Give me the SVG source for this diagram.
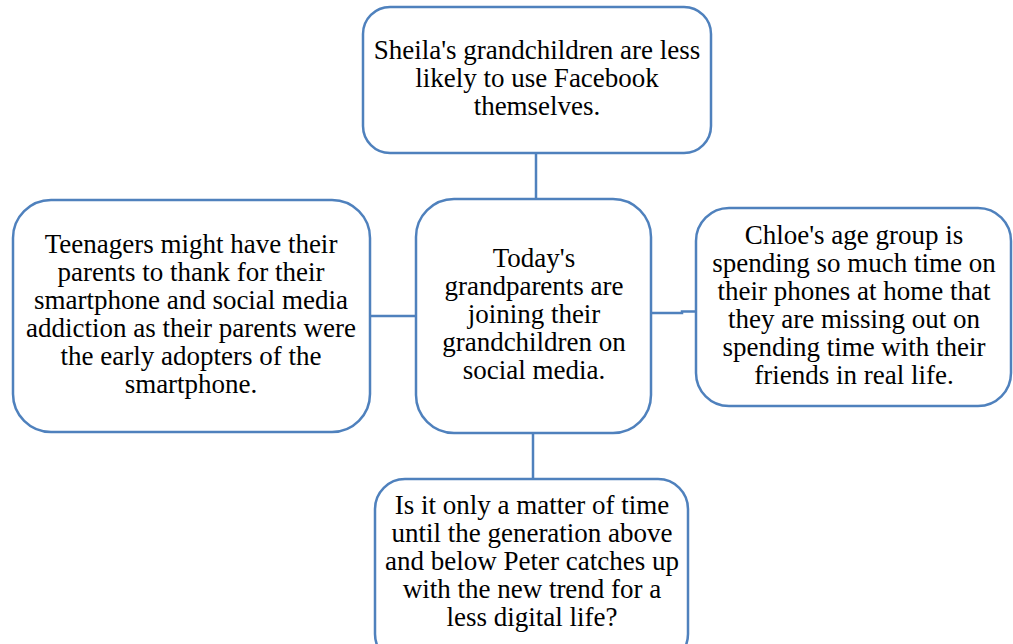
<svg xmlns="http://www.w3.org/2000/svg" width="1013" height="644" viewBox="0 0 1013 644">
<style>
.box{fill:#ffffff;stroke:#4F81BD;stroke-width:2.5}
.con{fill:none;stroke:#4F81BD;stroke-width:2.5}
text{font-family:"Liberation Serif","Times New Roman",serif;font-size:27px;fill:#000000;text-anchor:middle}
</style>
<rect width="1013" height="644" fill="#ffffff"/>
<g id="connectors">
<path class="con" d="M536 153 V200"/>
<path class="con" d="M370 316 H416"/>
<path class="con" d="M651 313 H682 V311.5 H696"/>
<path class="con" d="M533 433 V479"/>
</g>
<g id="node-top">
<rect class="box" x="363" y="7" width="348" height="146" rx="27" ry="27"/>
<text x="537" y="59">Sheila's grandchildren are less</text>
<text x="537" y="87">likely  to use Facebook</text>
<text x="537" y="115">themselves.</text>
</g>
<g id="node-left">
<rect class="box" x="13" y="200" width="357" height="232" rx="38" ry="38"/>
<text x="191" y="253">Teenagers might have their</text>
<text x="191" y="281">parents to thank for their</text>
<text x="191" y="309">smartphone and social media</text>
<text x="191" y="337">addiction as their parents were</text>
<text x="191" y="365">the early adopters of the</text>
<text x="191" y="393">smartphone.</text>
</g>
<g id="node-center">
<rect class="box" x="416" y="199" width="235" height="234" rx="38" ry="38"/>
<text x="534" y="267">Today's</text>
<text x="534" y="295">grandparents are</text>
<text x="534" y="323">joining their</text>
<text x="534" y="351">grandchildren on</text>
<text x="534" y="379">social media.</text>
</g>
<g id="node-right">
<rect class="box" x="696" y="208" width="315" height="198" rx="33" ry="33"/>
<text x="854" y="244">Chloe's age group is</text>
<text x="854" y="272">spending so much time on</text>
<text x="854" y="300">their phones at home that</text>
<text x="854" y="328">they are missing out on</text>
<text x="854" y="356">spending time with their</text>
<text x="854" y="384">friends in real life.</text>
</g>
<g id="node-bottom">
<rect class="box" x="375" y="479" width="313" height="185" rx="30" ry="30"/>
<text x="532" y="514">Is it only a matter of time</text>
<text x="532" y="542">until the generation above</text>
<text x="532" y="570">and below Peter catches up</text>
<text x="532" y="598">with the new trend for a</text>
<text x="532" y="626">less digital life?</text>
</g>
</svg>
